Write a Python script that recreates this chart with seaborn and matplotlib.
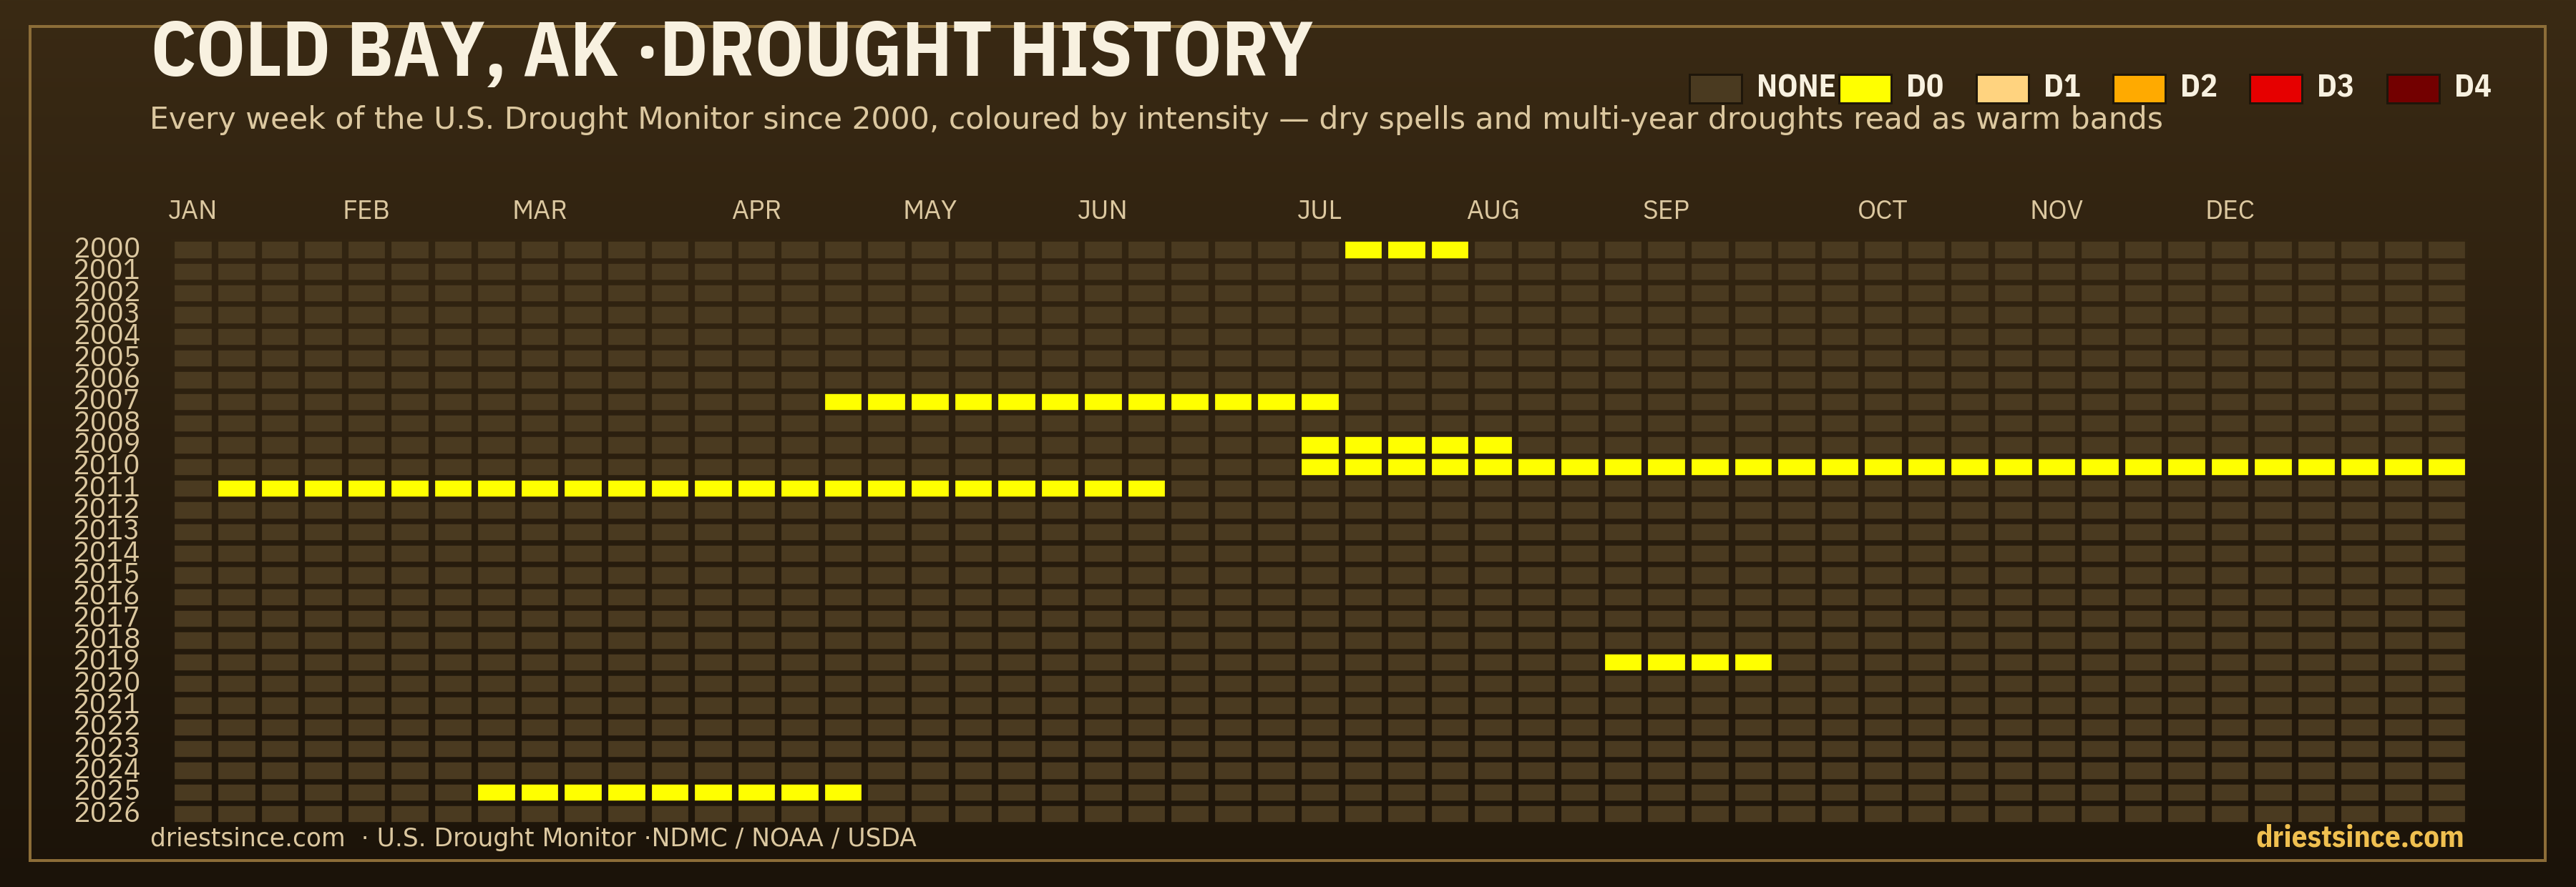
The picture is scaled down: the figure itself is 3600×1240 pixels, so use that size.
import numpy as np
import pandas as pd
import matplotlib
matplotlib.use("Agg")
import matplotlib.pyplot as plt
from matplotlib.colors import ListedColormap, to_rgb
from matplotlib.patches import Rectangle
import seaborn as sns

# ---------------- data ----------------
years = list(range(2000, 2027))
n_weeks = 53
month_labels = ["JAN", "FEB", "MAR", "APR", "MAY", "JUN",
                "JUL", "AUG", "SEP", "OCT", "NOV", "DEC"]
month_weeks = [0, 4, 8, 13, 17, 21, 26, 30, 34, 39, 43, 47]
level_names = ["NONE", "D0", "D1", "D2", "D3", "D4"]
level_colors = ["#4a3a20", "#ffff00", "#ffd37f", "#ffaa00", "#e60000", "#730000"]

# drought spells (week index, inclusive)
spell_years = [2000, 2007, 2009, 2010, 2011, 2019, 2025]
spell_first_week = [27, 15, 26, 26, 1, 33, 7]
spell_last_week = [29, 26, 30, 52, 22, 36, 15]
spell_level = [1, 1, 1, 1, 1, 1, 1]

title = "COLD BAY, AK \u00b7DROUGHT HISTORY"
subtitle = ("Every week of the U.S. Drought Monitor since 2000, coloured by intensity \u2014 "
            "dry spells and multi-year droughts read as warm bands")
footer_left = "driestsince.com  \u00b7 U.S. Drought Monitor \u00b7NDMC / NOAA / USDA"
footer_right = "driestsince.com"

# ---------------- build table ----------------
grid = pd.DataFrame(0, index=years, columns=range(n_weeks))
for y, a, b, lv in zip(spell_years, spell_first_week, spell_last_week, spell_level):
    grid.loc[y, a:b] = lv

# ---------------- style ----------------
sns.set_theme(style="white")
COND = ["IBM Plex Sans Condensed", "Roboto Condensed", "Liberation Sans Narrow", "DejaVu Sans"]
REG = ["IBM Plex Sans", "Roboto", "DejaVu Sans"]
WIDE = ["DejaVu Sans"]
plt.rcParams["font.family"] = COND

W, H = 3600, 1240
DPI = 200
PX = 72.0 / DPI  # points per pixel
fig = plt.figure(figsize=(W / DPI, H / DPI), dpi=DPI)

TOP = np.array(to_rgb("#3a2a14"))
BOT = np.array(to_rgb("#1b1309"))

def bg_at(fy):  # fy: figure fraction from bottom
    return tuple(BOT + (TOP - BOT) * fy)

# background gradient
bg = fig.add_axes([0, 0, 1, 1], zorder=-10)
t = np.linspace(1, 0, 512)[:, None]
img = (BOT[None, None, :] + (TOP - BOT)[None, None, :] * t[:, :, None])
bg.imshow(img, aspect="auto", extent=[0, 1, 0, 1], interpolation="bilinear")
bg.set_xlim(0, 1); bg.set_ylim(0, 1)
bg.axis("off")

# frame
fig.add_artist(Rectangle((42 / W, 1 - 1203 / H), 3515 / W, 1166 / H,
                         transform=fig.transFigure, fill=False,
                         edgecolor="#8c6d38", linewidth=4 * PX, zorder=1))

# heatmap
ax_l, ax_b, ax_w, ax_h = 0.0665, 0.0698, 0.8916, 0.6605
ax = fig.add_axes([ax_l, ax_b, ax_w, ax_h])
ax.patch.set_alpha(0)
cmap = ListedColormap(level_colors)
sns.heatmap(grid, ax=ax, cmap=cmap, vmin=-0.5, vmax=len(level_colors) - 0.5,
            cbar=False, linewidths=0,
            xticklabels=False, yticklabels=[str(y) for y in years])

# gaps between cells, coloured like the background behind them
nrows = len(years)
for i in range(nrows):
    fy = ax_b + ax_h * (1 - (i + 0.5) / nrows)
    ax.vlines(np.arange(n_weeks + 1), i, i + 1, colors=[bg_at(fy)],
              linewidth=9.2 * PX, zorder=3)
hcols = [bg_at(ax_b + ax_h * (1 - k / nrows)) for k in range(nrows + 1)]
ax.hlines(np.arange(nrows + 1), 0, n_weeks, colors=hcols,
          linewidth=7.6 * PX, zorder=3)
ax.set_xlim(0, n_weeks)
ax.set_ylim(nrows, 0)

ax.set_xticks([w + 0.5 for w in month_weeks])
ax.set_xticklabels(month_labels, rotation=0)
ax.xaxis.tick_top()
ax.tick_params(axis="x", length=0, pad=7.5, labelsize=13.4, labelcolor="#dcc8a0",
               top=True, labeltop=True, bottom=False, labelbottom=False)
ax.tick_params(axis="y", length=0, pad=15.5, labelsize=14.2, labelcolor="#dcc8a0")
ax.set_xlabel("")
ax.set_ylabel("")
for s in ax.spines.values():
    s.set_visible(False)

# make sure every tick exists before styling the labels
fig.canvas.draw()
for lbl in ax.get_yticklabels():
    lbl.set_rotation(0)
    lbl.set_family(REG)
    lbl.set_fontweight("medium")
for lbl in ax.get_xticklabels():
    lbl.set_family(REG)
    lbl.set_fontweight("medium")

# titles
fig.text(211 / W, 1 - 106 / H, title, fontsize=38.6, fontweight="bold",
         color="#f8f1e0", ha="left", va="baseline")
fig.text(209 / W, 1 - 180 / H, subtitle, fontsize=15.3,
         family=WIDE, color="#dcc8a0", ha="left", va="baseline")

# legend
legend_x = [2361, 2570, 2762, 2953, 3144, 3336]
for x, name, col in zip(legend_x, level_names, level_colors):
    fig.add_artist(Rectangle((x / W, 1 - 144 / H), 73 / W, 40 / H,
                             transform=fig.transFigure, facecolor=col,
                             edgecolor="#1e160a", linewidth=3 * PX, zorder=3))
    fig.text((x + 94) / W, 1 - 135 / H, name, fontsize=16, fontweight="bold",
             color="#f8f1e0", ha="left", va="baseline")

# footers
fig.text(210 / W, 1 - 1183 / H, footer_left, fontsize=12.45,
         family=WIDE, color="#dcc8a0", ha="left", va="baseline")
fig.text(3444 / W, 1 - 1183 / H, footer_right, fontsize=15.5, fontweight="bold",
         color="#f0c050", ha="right", va="baseline")

fig.savefig("out.png", dpi=DPI, facecolor="#1b1309")
